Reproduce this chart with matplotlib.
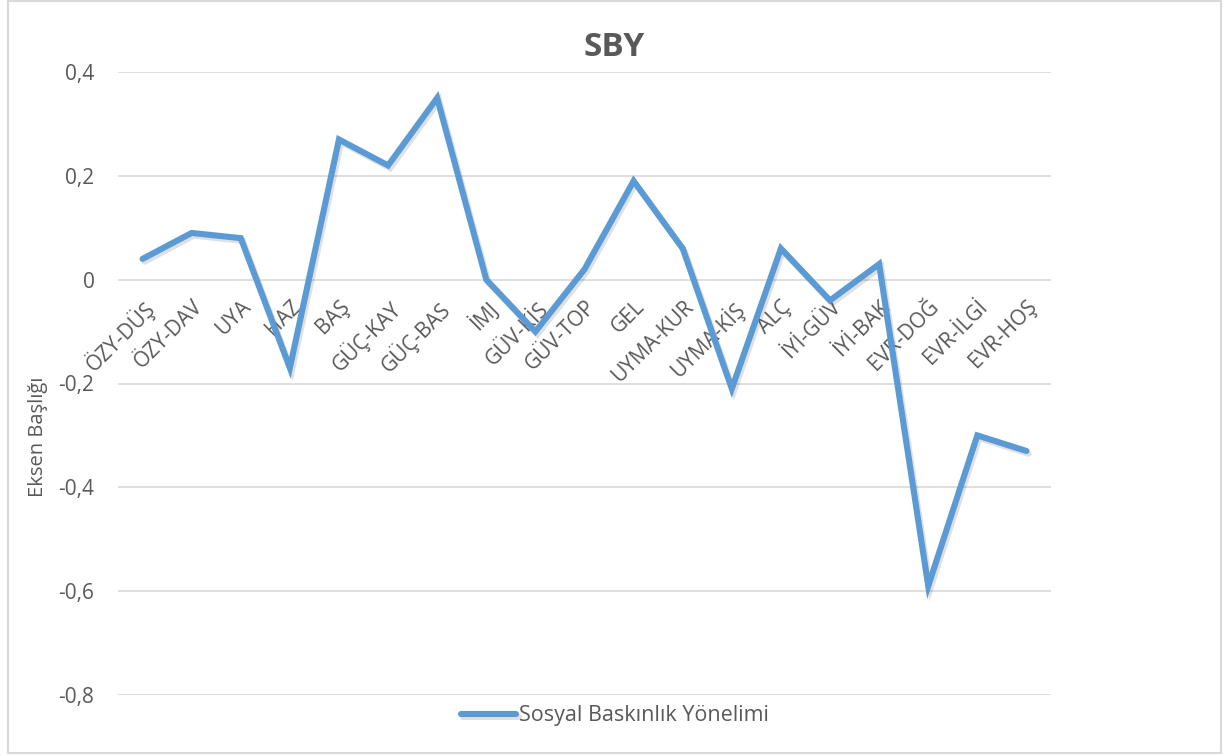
import matplotlib.pyplot as plt
import matplotlib.patheffects as pe
from matplotlib.patches import Rectangle
from matplotlib.ticker import FuncFormatter

plt.rcParams['font.family'] = ['Open Sans', 'DejaVu Sans']

categories = ['ÖZY-DÜŞ', 'ÖZY-DAV', 'UYA', 'HAZ', 'BAŞ', 'GÜÇ-KAY', 'GÜÇ-BAS', 'İMJ',
              'GÜV-KİŞ', 'GÜV-TOP', 'GEL', 'UYMA-KUR', 'UYMA-KİŞ', 'ALÇ', 'İYİ-GÜV',
              'İYİ-BAK', 'EVR-DOĞ', 'EVR-İLGİ', 'EVR-HOŞ']
sby = [0.04, 0.09, 0.08, -0.17, 0.27, 0.22, 0.35, 0.0, -0.10, 0.02, 0.19, 0.06,
       -0.21, 0.06, -0.04, 0.03, -0.59, -0.30, -0.33]
yticks = [-0.8, -0.6, -0.4, -0.2, 0, 0.2, 0.4]

txt = '#595959'
grid = '#d9d9d9'
blue = '#5B9BD5'

fig = plt.figure(figsize=(12.29, 7.56), dpi=100)
ax = fig.add_axes([118/1229, 1-695/756, (1051-118)/1229, (695-72)/756])

x = list(range(len(categories)))
ax.plot(x, sby, color=blue, lw=4.4, solid_joinstyle='miter', solid_capstyle='round',
        label='Sosyal Baskınlık Yönelimi',
        path_effects=[pe.SimpleLineShadow(offset=(1.5, -2), alpha=0.12), pe.Normal()])

ax.set_xlim(-0.5, len(categories) - 0.5)
ax.set_ylim(-0.8, 0.4)
ax.set_yticks(yticks)
ax.yaxis.set_major_formatter(FuncFormatter(lambda v, p: ('%g' % round(v, 1)).replace('.', ',')))
ax.grid(axis='y', color=grid, lw=1.2)
ax.set_axisbelow(True)
for s in ax.spines.values():
    s.set_visible(False)
ax.spines['bottom'].set_position(('data', 0))

ax.set_xticks(x)
ax.set_xticklabels(categories, rotation=45, ha='right', rotation_mode='anchor')
ax.tick_params(axis='x', length=0, pad=12, labelsize=15, labelcolor=txt)
ax.tick_params(axis='y', length=0, pad=17, labelsize=15, labelcolor=txt)

fig.text(38/1229, 1-437/756, 'Eksen Başlığı', rotation=90, fontsize=14.5, color=txt,
         ha='center', va='center')
fig.text(0.5, 1-47/756, 'SBY', fontsize=24, fontweight='bold', color=txt,
         ha='center', va='center')

fig.legend(loc='center', bbox_to_anchor=(0.5, 1-716/756), frameon=False,
           fontsize=15.5, labelcolor=txt, handlelength=2.6, handletextpad=0.1)

fig.patches.append(Rectangle((8/1229, 3/756), (1221-8)/1229, 752/756,
                             transform=fig.transFigure, fill=False, ec=grid, lw=1.5))

fig.savefig('out.png', dpi=100)
